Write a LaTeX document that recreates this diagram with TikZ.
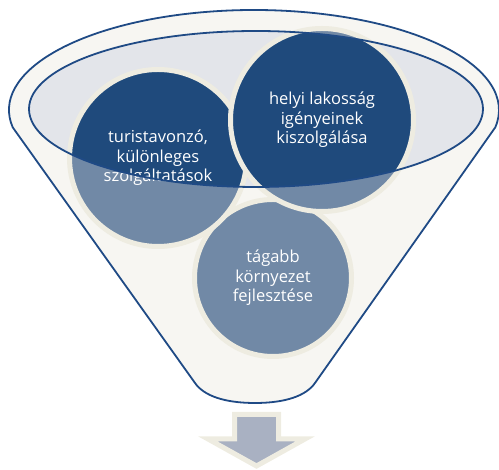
\documentclass[tikz,border=0pt]{standalone}
\usepackage{fontspec}
\setmainfont{Open Sans}
\usetikzlibrary{positioning}
\definecolor{funnelblue}{HTML}{1F4A85}
\definecolor{funnelcream}{HTML}{F7F6F2}
\definecolor{rimgray}{HTML}{E3E5EA}
\definecolor{bubblelight}{HTML}{7189A6}
\definecolor{bubbledark}{HTML}{1F4A7C}
\definecolor{ringcream}{HTML}{EEECE1}
\definecolor{arrowgray}{HTML}{A9B1C2}

\begin{document}
\begin{tikzpicture}[x=1pt,y=1pt,
	bubble/.style={circle, fill=bubblelight, draw=ringcream, line width=5pt, text=white, align=center, inner sep=0pt, font=\fontsize{16.5}{19.5}\selectfont},
	darkrim/.style={path picture={\fill[bubbledark] (rim) ellipse [x radius=227pt, y radius=78pt];}},
	rimline/.style={draw=funnelblue, line width=1.8pt}]
	\useasboundingbox (0,0) rectangle (499,470);
	\coordinate (rim) at (256,361);
	% funnel body
	\path[rimline, fill=funnelcream] (254,360) ++(190:245 and 100)
		arc [start angle=190, end angle=-10, x radius=245, y radius=100]
		-- (315,87) .. controls (306,74) and (285,67) .. (255,67)
		.. controls (225,67) and (204,74) .. (195,87) -- cycle;
	\fill[rimgray] (rim) ellipse [x radius=227, y radius=78];
	% circles
	\node[bubble, minimum size=157pt] (wider) at (273,192) {tágabb\\környezet\\fejlesztése};
	\node[bubble, darkrim, minimum size=177pt] (tourist) at (158,312) {turistavonzó,\\különleges\\szolgáltatások};
	\node[bubble, darkrim, minimum size=183pt] (local) at (322,350) {helyi lakosság\\igényeinek\\kiszolgálása};
	\draw[rimline] (rim) ellipse [x radius=227, y radius=78];
	% output arrow
	\draw[line width=5pt, draw=ringcream, fill=arrowgray]
		(234.5,55.5) -- (278.5,55.5) -- (278.5,31) -- (305,31) -- (256.5,4)
		-- (208,31) -- (234.5,31) -- cycle;
\end{tikzpicture}
\end{document}
